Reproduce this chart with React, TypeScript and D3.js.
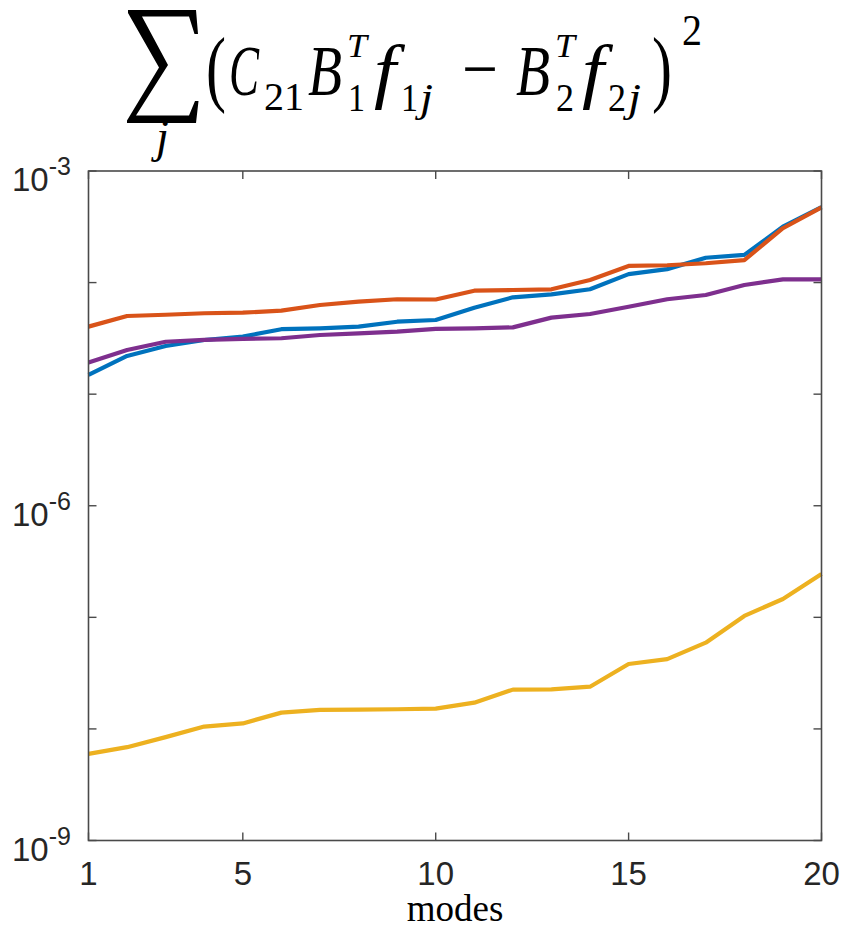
import React from "react";
import * as d3 from "d3";

// Mode index on the horizontal axis
const modes: number[] = [1, 2, 3, 4, 5, 6, 7, 8, 9, 10, 11, 12, 13, 14, 15, 16, 17, 18, 19, 20];

// Residual sums for each configuration (log-scale values)
const seriesBlue: number[] = [
  1.49e-5, 2.2e-5, 2.7e-5, 3.06e-5, 3.28e-5, 3.82e-5, 3.89e-5, 4.03e-5, 4.46e-5, 4.62e-5,
  5.96e-5, 7.38e-5, 7.85e-5, 8.71e-5, 1.19e-4, 1.32e-4, 1.67e-4, 1.77e-4, 3.17e-4, 4.75e-4,
];
const seriesOrange: number[] = [
  4.03e-5, 5.02e-5, 5.15e-5, 5.31e-5, 5.37e-5, 5.6e-5, 6.3e-5, 6.75e-5, 7.09e-5, 7.05e-5,
  8.46e-5, 8.58e-5, 8.71e-5, 1.055e-4, 1.41e-4, 1.43e-4, 1.49e-4, 1.59e-4, 3.07e-4, 4.73e-4,
];
const seriesYellow: number[] = [
  5.97e-9, 6.86e-9, 8.44e-9, 1.05e-8, 1.12e-8, 1.4e-8, 1.48e-8, 1.49e-8, 1.5e-8, 1.52e-8,
  1.72e-8, 2.25e-8, 2.26e-8, 2.39e-8, 3.82e-8, 4.22e-8, 5.93e-8, 1.03e-7, 1.46e-7, 2.45e-7,
];
const seriesPurple: number[] = [
  1.92e-5, 2.49e-5, 2.95e-5, 3.06e-5, 3.13e-5, 3.17e-5, 3.39e-5, 3.51e-5, 3.63e-5, 3.84e-5,
  3.89e-5, 3.97e-5, 4.85e-5, 5.23e-5, 6.08e-5, 7.09e-5, 7.74e-5, 9.51e-5, 1.07e-4, 1.07e-4,
];

const xTicks: number[] = [1, 5, 10, 15, 20];
const yTicks: number[] = [1e-9, 1e-8, 1e-7, 1e-6, 1e-5, 1e-4, 1e-3];
const yLabelExps: number[] = [-9, -6, -3];
const xLabel = "modes";

const COLORS = ["#0072BD", "#D95319", "#EDB120", "#7E2F8E"];

const W = 844;
const H = 930;
const M = { left: 88.5, right: 821.5, top: 171, bottom: 840.5 };

export default function App() {
  const x = d3.scaleLinear().domain([1, 20]).range([M.left, M.right]);
  const y = d3.scaleLog().domain([1e-9, 1e-3]).range([M.bottom, M.top]);

  const line = d3
    .line<number>()
    .x((_, i) => x(modes[i]))
    .y((v) => y(v));

  const series = [seriesBlue, seriesOrange, seriesYellow, seriesPurple];
  const axisColor = "#4a4a4a";
  const tickLen = 8;
  const sans = "'Liberation Sans', Arial, Helvetica, sans-serif";
  const serif = "'Liberation Serif', 'Times New Roman', serif";

  // Pieces of the typeset title formula, laid out left to right
  type Piece = { s: string; x: number; w: number; y: number; size: number; italic?: boolean };
  const pieces: Piece[] = [
    { s: "(", x: 206, w: 20, y: 96, size: 84 },
    { s: "C", x: 229, w: 30, y: 95, size: 72, italic: true },
    { s: "21", x: 264, w: 40, y: 110, size: 40 },
    { s: "B", x: 308, w: 34, y: 95, size: 72, italic: true },
    { s: "T", x: 347, w: 20, y: 57, size: 34, italic: true },
    { s: "1", x: 348, w: 17, y: 111, size: 40 },
    { s: "f", x: 374, w: 22, y: 95, size: 72, italic: true },
    { s: "1", x: 401, w: 17, y: 111, size: 40 },
    { s: "j", x: 420, w: 13, y: 111, size: 40, italic: true },
    { s: "\u2212", x: 462, w: 36, y: 93, size: 72 },
    { s: "B", x: 516, w: 34, y: 95, size: 72, italic: true },
    { s: "T", x: 555, w: 20, y: 57, size: 34, italic: true },
    { s: "2", x: 556, w: 18, y: 111, size: 40 },
    { s: "f", x: 582, w: 22, y: 95, size: 72, italic: true },
    { s: "2", x: 608, w: 18, y: 111, size: 40 },
    { s: "j", x: 628, w: 13, y: 111, size: 40, italic: true },
    { s: ")", x: 652, w: 20, y: 96, size: 84 },
    { s: "2", x: 682, w: 20, y: 45, size: 44 },
  ];

  return (
    <svg
      width={W}
      height={H}
      viewBox={`0 0 ${W} ${H}`}
      style={{ position: "absolute", left: 0, top: 0, background: "#fff" }}
    >
      <rect x={0} y={0} width={W} height={H} fill="#fff" />

      {/* Title: summation symbol with its index */}
      <path
        d="M128,10 L196,10 L198,34 L194.5,34 L189,16.5 L142,16.5 L168,65 L136,115.5 L189,115.5 L195,101 L198.5,101 L196,123 L127,123 L127,120.5 L159,67.5 L128,13 Z"
        fill="#000"
      />
      <text x={156} y={152} fontFamily={serif} fontStyle="italic" fontSize={46} fill="#000">
        j
      </text>

      {/* Title: summand, set as one text run */}
      <text fontFamily={serif} fill="#000">
        {pieces.map((p, i) => (
          <tspan
            key={i}
            x={p.x}
            y={p.y}
            fontStyle={p.italic ? "italic" : "normal"}
            fontSize={p.size}
            textLength={p.w}
            lengthAdjust="spacingAndGlyphs"
          >
            {p.s}
          </tspan>
        ))}
      </text>

      <defs>
        <clipPath id="plotClip">
          <rect x={M.left - 3} y={M.top - 3} width={M.right - M.left + 6} height={M.bottom - M.top + 6} />
        </clipPath>
      </defs>

      {/* Data lines */}
      <g clipPath="url(#plotClip)">
        {series.map((s, i) => (
          <path
            key={i}
            d={line(s) || ""}
            fill="none"
            stroke={COLORS[i]}
            strokeWidth={4.2}
            strokeLinejoin="round"
          />
        ))}
      </g>

      {/* Axes box */}
      <rect
        x={M.left}
        y={M.top}
        width={M.right - M.left}
        height={M.bottom - M.top}
        fill="none"
        stroke={axisColor}
        strokeWidth={1.6}
      />

      {/* X ticks (bottom and top, inward) */}
      {xTicks.map((t) => (
        <g key={`xt${t}`}>
          <line x1={x(t)} x2={x(t)} y1={M.bottom} y2={M.bottom - tickLen} stroke={axisColor} strokeWidth={1.4} />
          <line x1={x(t)} x2={x(t)} y1={M.top} y2={M.top + tickLen} stroke={axisColor} strokeWidth={1.4} />
          <text x={x(t)} y={885} textAnchor="middle" fontFamily={sans} fontSize={33} fill="#262626">
            {t}
          </text>
        </g>
      ))}

      {/* Y ticks (left and right, inward) */}
      {yTicks.map((t) => (
        <g key={`yt${t}`}>
          <line x1={M.left} x2={M.left + tickLen} y1={y(t)} y2={y(t)} stroke={axisColor} strokeWidth={1.4} />
          <line x1={M.right} x2={M.right - tickLen} y1={y(t)} y2={y(t)} stroke={axisColor} strokeWidth={1.4} />
        </g>
      ))}

      {/* Y tick labels at selected decades */}
      {yLabelExps.map((e) => {
        const ty = y(Math.pow(10, e));
        return (
          <text key={`yl${e}`} y={ty + 20} fontFamily={sans} fill="#262626">
            <tspan x={12} fontSize={33}>10</tspan>
            <tspan dy={-16} fontSize={25}>{`-${Math.abs(e)}`}</tspan>
          </text>
        );
      })}

      {/* X axis label */}
      <text x={455} y={921} textAnchor="middle" fontFamily={serif} fontSize={37} fill="#000">
        {xLabel}
      </text>
    </svg>
  );
}
